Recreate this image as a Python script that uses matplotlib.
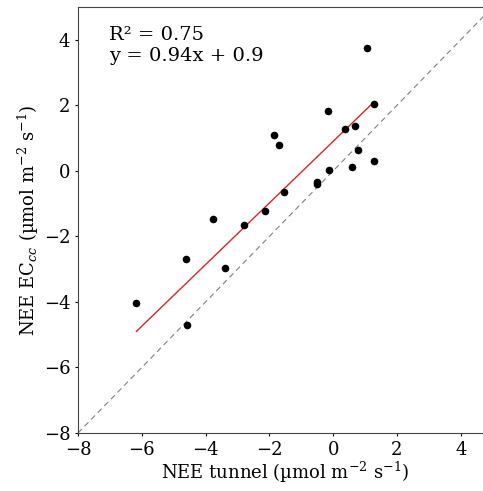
import numpy as np
import matplotlib
matplotlib.use("Agg")
import matplotlib.pyplot as plt

# NEE tunnel vs NEE EC_cc (umol m-2 s-1)
nee_tunnel = [1.05, 1.29, -0.17, 0.36, 0.69, 0.77, 1.27, 0.58, -0.125,
              -1.85, -1.69, -0.52, -0.50, -1.54, -2.125, -2.79, -3.76,
              -6.17, -4.60, -4.58, -3.39]
nee_ec = [3.75, 2.03, 1.83, 1.27, 1.36, 0.64, 0.29, 0.13, 0.02,
          1.08, 0.78, -0.34, -0.41, -0.65, -1.22, -1.64, -1.47,
          -4.04, -2.70, -4.69, -2.96]

slope = 0.94
intercept = 0.9
r2 = 0.75

plt.rcParams['font.family'] = 'DejaVu Serif'
plt.rcParams['mathtext.fontset'] = 'dejavuserif'

fig = plt.figure(figsize=(4.83, 4.91), dpi=100)
ax = fig.add_axes([78 / 483, 58 / 491, 1 - 78 / 483 + 0.02, 426 / 491])

# 1:1 line
ax.plot([-8, 5], [-8, 5], color='gray', linestyle='--', linewidth=0.8, dashes=(5, 3.5))

# regression line over data range
x = np.array(nee_tunnel)
xx = np.array([x.min(), x.max()])
ax.plot(xx, slope * xx + intercept, color='#d62728', linewidth=1.0)

ax.scatter(nee_tunnel, nee_ec, color='black', s=20, zorder=3)

ax.set_xlim(-8, 5)
ax.set_ylim(-8, 5)
ax.set_xticks([-8, -6, -4, -2, 0, 2, 4])
ax.set_yticks([-8, -6, -4, -2, 0, 2, 4])
ax.tick_params(labelsize=13, length=2.5, pad=3)
for s in ax.spines.values():
    s.set_color('#444444')

ax.set_xlabel('NEE tunnel (µmol m$^{-2}$ s$^{-1}$)', fontsize=13, labelpad=1)
ax.set_ylabel('NEE EC$_{cc}$ (µmol m$^{-2}$ s$^{-1}$)', fontsize=13, labelpad=2)

ax.text(0.075, 0.955, f'R² = {r2:.2f}\ny = {slope:.2f}x + {intercept:.1f}',
        transform=ax.transAxes, fontsize=14, va='top', ha='left', linespacing=1.2)

fig.savefig('out.png', dpi=100)
